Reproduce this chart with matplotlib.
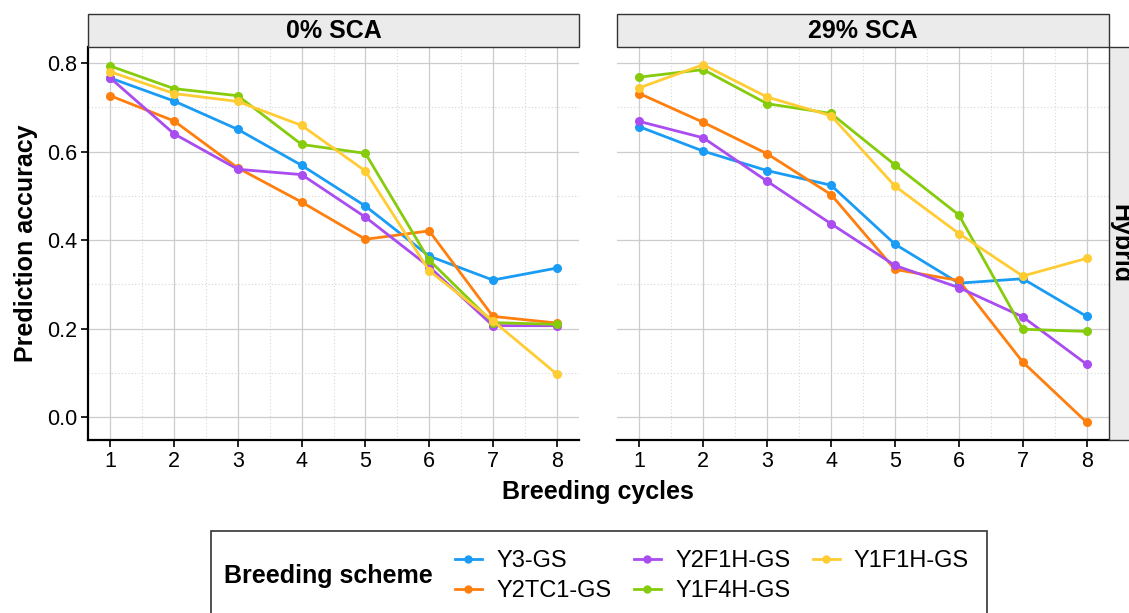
import numpy as np
import matplotlib.pyplot as plt
from matplotlib.patches import Rectangle
from matplotlib.lines import Line2D

plt.rcParams['font.family'] = ['Liberation Sans', 'DejaVu Sans']

cycles = [1, 2, 3, 4, 5, 6, 7, 8]
schemes = ['Y3-GS', 'Y2TC1-GS', 'Y2F1H-GS', 'Y1F4H-GS', 'Y1F1H-GS']
cols = ['#1a9cf5', '#ff7f0e', '#a94cf0', '#86cc0c', '#ffcc33']
panels = ['0% SCA', '29% SCA']

# 0% SCA
sca0 = {
    'Y3-GS':    [0.766, 0.714, 0.650, 0.569, 0.477, 0.364, 0.310, 0.337],
    'Y2TC1-GS': [0.726, 0.669, 0.563, 0.486, 0.402, 0.421, 0.228, 0.213],
    'Y2F1H-GS': [0.766, 0.640, 0.560, 0.548, 0.452, 0.340, 0.207, 0.207],
    'Y1F4H-GS': [0.793, 0.742, 0.726, 0.616, 0.596, 0.355, 0.214, 0.210],
    'Y1F1H-GS': [0.780, 0.731, 0.713, 0.659, 0.556, 0.331, 0.218, 0.098],
}
# 29% SCA
sca29 = {
    'Y3-GS':    [0.656, 0.601, 0.557, 0.524, 0.391, 0.303, 0.313, 0.228],
    'Y2TC1-GS': [0.731, 0.666, 0.595, 0.503, 0.334, 0.309, 0.125, -0.011],
    'Y2F1H-GS': [0.668, 0.631, 0.533, 0.437, 0.343, 0.293, 0.227, 0.120],
    'Y1F4H-GS': [0.768, 0.785, 0.708, 0.686, 0.570, 0.457, 0.199, 0.194],
    'Y1F1H-GS': [0.744, 0.796, 0.723, 0.681, 0.522, 0.415, 0.319, 0.359],
}

W, H = 1129, 613
fig = plt.figure(figsize=(W/100, H/100), dpi=100)

def px(x0, y0, x1, y1):
    # pixel box (top-left origin) -> figure fraction
    return [x0/W, 1-y1/H, (x1-x0)/W, (y1-y0)/H]

boxes = [(88, 47, 579, 440), (617, 47, 1109, 440)]
for k, data in enumerate([sca0, sca29]):
    b = boxes[k]
    ax = fig.add_axes(px(*b))
    for s, c in zip(schemes, cols):
        ax.plot(cycles, data[s], color=c, lw=2.0, marker='o', ms=5.5, zorder=3)
    ax.set_xlim(0.65, 8.35)
    ax.set_ylim(-0.051, 0.836)
    ax.set_xticks(cycles)
    ax.set_yticks([0.0, 0.2, 0.4, 0.6, 0.8])
    ax.set_yticklabels(['0.0', '0.2', '0.4', '0.6', '0.8'])
    ax.set_xticks(np.arange(1.5, 8, 1), minor=True)
    ax.set_yticks([0.1, 0.3, 0.5, 0.7], minor=True)
    ax.grid(True, which='major', color='#cccccc', lw=0.9)
    ax.grid(True, which='minor', color='#d6d6d6', lw=0.8, ls=(0, (1, 2)))
    ax.set_axisbelow(True)
    for sp in ['top', 'right']:
        ax.spines[sp].set_visible(False)
    ax.spines['bottom'].set_linewidth(1.6)
    ax.spines['left'].set_linewidth(1.6)
    ax.tick_params(which='major', labelsize=15.5, width=1.4, length=5, color='#222222',
                   labelcolor='black', pad=3)
    ax.tick_params(which='minor', length=0)
    if k == 1:
        ax.spines['left'].set_visible(False)
        ax.tick_params(axis='y', left=False, labelleft=False)
    else:
        ax.set_ylabel('Prediction accuracy', fontsize=18, fontweight='bold', labelpad=6)
    # strip on top
    fig.patches.append(Rectangle((b[0]/W, 1-47/H), (b[2]-b[0])/W, 33/H, transform=fig.transFigure,
                                 facecolor='#ebebeb', edgecolor='#333333', lw=1.0))
    fig.text((b[0]+b[2])/2/W, 1-30.5/H, panels[k], ha='center', va='center',
             fontsize=18, fontweight='bold')

# right strip
fig.patches.append(Rectangle((1109/W, 1-440/H), 30/W, 393/H, transform=fig.transFigure,
                             facecolor='#ebebeb', edgecolor='#333333', lw=1.0))
fig.text(1120/W, 1-244/H, 'Hybrid', rotation=-90, ha='center', va='center',
         fontsize=18, fontweight='bold')

fig.text(598/W, 1-492/H, 'Breeding cycles', ha='center', va='center',
         fontsize=18, fontweight='bold')

# legend
fig.patches.append(Rectangle((211/W, -0.01), (987-211)/W, 1-531/H+0.01, transform=fig.transFigure,
                             facecolor='white', edgecolor='#333333', lw=1.2))
fig.text(224/W, 1-576/H, 'Breeding scheme', ha='left', va='center',
         fontsize=18, fontweight='bold')
handles = [Line2D([], [], color=c, lw=2.0, marker='o', ms=5) for c in cols]
fig.legend(handles, schemes, ncol=3, frameon=False, fontsize=17,
           loc='center left', bbox_to_anchor=(443/W, 1-576/H),
           handlelength=1.15, handletextpad=0.6, columnspacing=0.95,
           labelspacing=0.35, borderpad=0)

fig.savefig('out.png', dpi=100)
